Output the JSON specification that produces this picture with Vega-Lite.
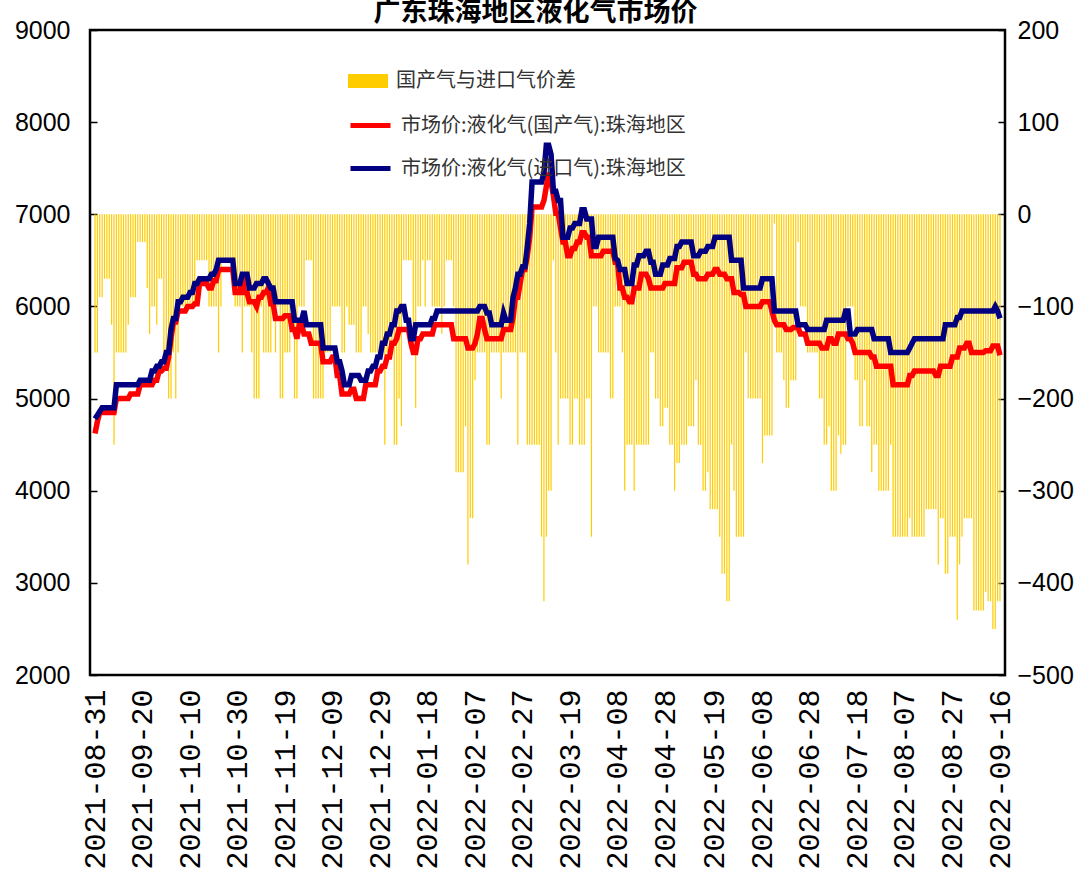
{
"$schema":"https://vega.github.io/schema/vega-lite/v6.json",
"width":915,"height":645,
"autosize":{"type":"none"},
"padding":{"left":90,"top":30,"right":71,"bottom":211},
"background":"white",
"title":{"text":"广东珠海地区液化气市场价","font":"Noto Sans CJK SC","fontSize":27,"fontWeight":"bold","color":"#000","anchor":"middle","offset":8,"dx":-12,"dy":17},
"config":{"view":{"stroke":"#000","strokeWidth":2.5}},
"data":{"values":[
{"d":"2021-08-31","a":4620,"b":4780,"s":-150},
{"d":"2021-09-01","a":4750,"b":4820,"s":-150},
{"d":"2021-09-02","a":4850,"b":4860,"s":-90},
{"d":"2021-09-03","a":4850,"b":4900,"s":-90},
{"d":"2021-09-04","a":4850,"b":4900,"s":-70},
{"d":"2021-09-05","a":4850,"b":4900,"s":-70},
{"d":"2021-09-06","a":4850,"b":4900,"s":-70},
{"d":"2021-09-07","a":4850,"b":4900,"s":-120},
{"d":"2021-09-08","a":4850,"b":4900,"s":-250},
{"d":"2021-09-09","a":5000,"b":5150,"s":-150},
{"d":"2021-09-10","a":5000,"b":5150,"s":-150},
{"d":"2021-09-11","a":5000,"b":5150,"s":-150},
{"d":"2021-09-12","a":5000,"b":5150,"s":-150},
{"d":"2021-09-13","a":5000,"b":5150,"s":-150},
{"d":"2021-09-14","a":5000,"b":5150,"s":-120},
{"d":"2021-09-15","a":5050,"b":5150,"s":-90},
{"d":"2021-09-16","a":5050,"b":5150,"s":-90},
{"d":"2021-09-17","a":5050,"b":5150,"s":-90},
{"d":"2021-09-18","a":5050,"b":5150,"s":-30},
{"d":"2021-09-19","a":5150,"b":5200,"s":-30},
{"d":"2021-09-20","a":5150,"b":5200,"s":-30},
{"d":"2021-09-21","a":5150,"b":5200,"s":-30},
{"d":"2021-09-22","a":5150,"b":5200,"s":-80},
{"d":"2021-09-23","a":5150,"b":5200,"s":-130},
{"d":"2021-09-24","a":5150,"b":5300,"s":-100},
{"d":"2021-09-25","a":5200,"b":5300,"s":-100},
{"d":"2021-09-26","a":5200,"b":5350,"s":-120},
{"d":"2021-09-27","a":5300,"b":5350,"s":-70},
{"d":"2021-09-28","a":5300,"b":5400,"s":-70},
{"d":"2021-09-29","a":5330,"b":5400,"s":-150},
{"d":"2021-09-30","a":5330,"b":5500,"s":-150},
{"d":"2021-10-01","a":5450,"b":5500,"s":-200},
{"d":"2021-10-02","a":5650,"b":5750,"s":-200},
{"d":"2021-10-03","a":5830,"b":5870,"s":-150},
{"d":"2021-10-04","a":5830,"b":5870,"s":-200},
{"d":"2021-10-05","a":5950,"b":6050,"s":-150},
{"d":"2021-10-06","a":5950,"b":6050,"s":-100},
{"d":"2021-10-07","a":5950,"b":6100,"s":-100},
{"d":"2021-10-08","a":5950,"b":6100,"s":-100},
{"d":"2021-10-09","a":6000,"b":6100,"s":-100},
{"d":"2021-10-10","a":6000,"b":6150,"s":-100},
{"d":"2021-10-11","a":6000,"b":6150,"s":-100},
{"d":"2021-10-12","a":6030,"b":6250,"s":-100},
{"d":"2021-10-13","a":6030,"b":6250,"s":-50},
{"d":"2021-10-14","a":6250,"b":6300,"s":-50},
{"d":"2021-10-15","a":6250,"b":6300,"s":-50},
{"d":"2021-10-16","a":6250,"b":6300,"s":-50},
{"d":"2021-10-17","a":6250,"b":6300,"s":-50},
{"d":"2021-10-18","a":6200,"b":6300,"s":-100},
{"d":"2021-10-19","a":6200,"b":6350,"s":-100},
{"d":"2021-10-20","a":6280,"b":6350,"s":-100},
{"d":"2021-10-21","a":6280,"b":6400,"s":-100},
{"d":"2021-10-22","a":6400,"b":6500,"s":-150},
{"d":"2021-10-23","a":6400,"b":6500,"s":-100},
{"d":"2021-10-24","a":6400,"b":6500,"s":-50},
{"d":"2021-10-25","a":6400,"b":6500,"s":-50},
{"d":"2021-10-26","a":6400,"b":6500,"s":-50},
{"d":"2021-10-27","a":6400,"b":6500,"s":-50},
{"d":"2021-10-28","a":6400,"b":6500,"s":-50},
{"d":"2021-10-29","a":6150,"b":6250,"s":-100},
{"d":"2021-10-30","a":6150,"b":6250,"s":-100},
{"d":"2021-10-31","a":6150,"b":6250,"s":-100},
{"d":"2021-11-01","a":6320,"b":6350,"s":-150},
{"d":"2021-11-02","a":6150,"b":6350,"s":-100},
{"d":"2021-11-03","a":6150,"b":6350,"s":-100},
{"d":"2021-11-04","a":6050,"b":6200,"s":-100},
{"d":"2021-11-05","a":6050,"b":6200,"s":-150},
{"d":"2021-11-06","a":6050,"b":6200,"s":-200},
{"d":"2021-11-07","a":6000,"b":6250,"s":-200},
{"d":"2021-11-08","a":6100,"b":6250,"s":-200},
{"d":"2021-11-09","a":6100,"b":6250,"s":-100},
{"d":"2021-11-10","a":6150,"b":6300,"s":-150},
{"d":"2021-11-11","a":6150,"b":6300,"s":-150},
{"d":"2021-11-12","a":6200,"b":6250,"s":-150},
{"d":"2021-11-13","a":6030,"b":6200,"s":-150},
{"d":"2021-11-14","a":6030,"b":6200,"s":-100},
{"d":"2021-11-15","a":5870,"b":6050,"s":-150},
{"d":"2021-11-16","a":5870,"b":6050,"s":-100},
{"d":"2021-11-17","a":5870,"b":6050,"s":-200},
{"d":"2021-11-18","a":5870,"b":6050,"s":-200},
{"d":"2021-11-19","a":5900,"b":6050,"s":-150},
{"d":"2021-11-20","a":5900,"b":6050,"s":-150},
{"d":"2021-11-21","a":5900,"b":6050,"s":-150},
{"d":"2021-11-22","a":5750,"b":6050,"s":-100},
{"d":"2021-11-23","a":5750,"b":5850,"s":-200},
{"d":"2021-11-24","a":5650,"b":5850,"s":-200},
{"d":"2021-11-25","a":5800,"b":5850,"s":-100},
{"d":"2021-11-26","a":5800,"b":5850,"s":-100},
{"d":"2021-11-27","a":5700,"b":5950,"s":-100},
{"d":"2021-11-28","a":5700,"b":5800,"s":-50},
{"d":"2021-11-29","a":5700,"b":5800,"s":-50},
{"d":"2021-11-30","a":5600,"b":5800,"s":-50},
{"d":"2021-12-01","a":5600,"b":5800,"s":-200},
{"d":"2021-12-02","a":5600,"b":5800,"s":-200},
{"d":"2021-12-03","a":5600,"b":5800,"s":-200},
{"d":"2021-12-04","a":5600,"b":5800,"s":-200},
{"d":"2021-12-05","a":5400,"b":5550,"s":-200},
{"d":"2021-12-06","a":5400,"b":5550,"s":-150},
{"d":"2021-12-07","a":5400,"b":5550,"s":-150},
{"d":"2021-12-08","a":5400,"b":5550,"s":-150},
{"d":"2021-12-09","a":5450,"b":5550,"s":-100},
{"d":"2021-12-10","a":5450,"b":5550,"s":-100},
{"d":"2021-12-11","a":5250,"b":5400,"s":-100},
{"d":"2021-12-12","a":5250,"b":5400,"s":-100},
{"d":"2021-12-13","a":5050,"b":5300,"s":-150},
{"d":"2021-12-14","a":5050,"b":5150,"s":-150},
{"d":"2021-12-15","a":5050,"b":5150,"s":-100},
{"d":"2021-12-16","a":5050,"b":5150,"s":-120},
{"d":"2021-12-17","a":5100,"b":5250,"s":-120},
{"d":"2021-12-18","a":5100,"b":5250,"s":-120},
{"d":"2021-12-19","a":5000,"b":5250,"s":-150},
{"d":"2021-12-20","a":5000,"b":5250,"s":-150},
{"d":"2021-12-21","a":5000,"b":5200,"s":-150},
{"d":"2021-12-22","a":5000,"b":5200,"s":-100},
{"d":"2021-12-23","a":5150,"b":5200,"s":-100},
{"d":"2021-12-24","a":5150,"b":5300,"s":-130},
{"d":"2021-12-25","a":5150,"b":5300,"s":-150},
{"d":"2021-12-26","a":5150,"b":5350,"s":-150},
{"d":"2021-12-27","a":5150,"b":5350,"s":-150},
{"d":"2021-12-28","a":5300,"b":5450,"s":-150},
{"d":"2021-12-29","a":5300,"b":5450,"s":-150},
{"d":"2021-12-30","a":5350,"b":5600,"s":-150},
{"d":"2021-12-31","a":5350,"b":5600,"s":-250},
{"d":"2022-01-01","a":5450,"b":5700,"s":-150},
{"d":"2022-01-02","a":5450,"b":5700,"s":-150},
{"d":"2022-01-03","a":5600,"b":5800,"s":-150},
{"d":"2022-01-04","a":5600,"b":5800,"s":-250},
{"d":"2022-01-05","a":5650,"b":5950,"s":-250},
{"d":"2022-01-06","a":5750,"b":5950,"s":-200},
{"d":"2022-01-07","a":5750,"b":6000,"s":-230},
{"d":"2022-01-08","a":5750,"b":6000,"s":-50},
{"d":"2022-01-09","a":5750,"b":5850,"s":-50},
{"d":"2022-01-10","a":5750,"b":5850,"s":-50},
{"d":"2022-01-11","a":5600,"b":5650,"s":-50},
{"d":"2022-01-12","a":5500,"b":5650,"s":-150},
{"d":"2022-01-13","a":5500,"b":5800,"s":-210},
{"d":"2022-01-14","a":5650,"b":5800,"s":-100},
{"d":"2022-01-15","a":5650,"b":5800,"s":-100},
{"d":"2022-01-16","a":5700,"b":5800,"s":-50},
{"d":"2022-01-17","a":5700,"b":5800,"s":-100},
{"d":"2022-01-18","a":5700,"b":5800,"s":-50},
{"d":"2022-01-19","a":5700,"b":5800,"s":-50},
{"d":"2022-01-20","a":5700,"b":5870,"s":-100},
{"d":"2022-01-21","a":5800,"b":5870,"s":-100},
{"d":"2022-01-22","a":5800,"b":5950,"s":-100},
{"d":"2022-01-23","a":5800,"b":5950,"s":-100},
{"d":"2022-01-24","a":5800,"b":5950,"s":-130},
{"d":"2022-01-25","a":5800,"b":5950,"s":-100},
{"d":"2022-01-26","a":5800,"b":5950,"s":-50},
{"d":"2022-01-27","a":5800,"b":5950,"s":-50},
{"d":"2022-01-28","a":5800,"b":5950,"s":-50},
{"d":"2022-01-29","a":5650,"b":5950,"s":-100},
{"d":"2022-01-30","a":5650,"b":5950,"s":-280},
{"d":"2022-01-31","a":5650,"b":5950,"s":-280},
{"d":"2022-02-01","a":5650,"b":5950,"s":-280},
{"d":"2022-02-02","a":5650,"b":5950,"s":-280},
{"d":"2022-02-03","a":5650,"b":5950,"s":-230},
{"d":"2022-02-04","a":5550,"b":5950,"s":-380},
{"d":"2022-02-05","a":5550,"b":5950,"s":-330},
{"d":"2022-02-06","a":5550,"b":5950,"s":-330},
{"d":"2022-02-07","a":5600,"b":5950,"s":-180},
{"d":"2022-02-08","a":5700,"b":5950,"s":-150},
{"d":"2022-02-09","a":5870,"b":6000,"s":-150},
{"d":"2022-02-10","a":5870,"b":6000,"s":-150},
{"d":"2022-02-11","a":5750,"b":6000,"s":-150},
{"d":"2022-02-12","a":5650,"b":5930,"s":-250},
{"d":"2022-02-13","a":5650,"b":5930,"s":-250},
{"d":"2022-02-14","a":5650,"b":5800,"s":-150},
{"d":"2022-02-15","a":5650,"b":5800,"s":-150},
{"d":"2022-02-16","a":5650,"b":5800,"s":-150},
{"d":"2022-02-17","a":5650,"b":5800,"s":-150},
{"d":"2022-02-18","a":5650,"b":5800,"s":-200},
{"d":"2022-02-19","a":5750,"b":5930,"s":-150},
{"d":"2022-02-20","a":5750,"b":5850,"s":-150},
{"d":"2022-02-21","a":5750,"b":5850,"s":-150},
{"d":"2022-02-22","a":5750,"b":5850,"s":-150},
{"d":"2022-02-23","a":5880,"b":6100,"s":-150},
{"d":"2022-02-24","a":6100,"b":6200,"s":-150},
{"d":"2022-02-25","a":6100,"b":6350,"s":-250},
{"d":"2022-02-26","a":6250,"b":6350,"s":-150},
{"d":"2022-02-27","a":6400,"b":6430,"s":-150},
{"d":"2022-02-28","a":6400,"b":6430,"s":-150},
{"d":"2022-03-01","a":6550,"b":6650,"s":-250},
{"d":"2022-03-02","a":6750,"b":6900,"s":-250},
{"d":"2022-03-03","a":7080,"b":7350,"s":-250},
{"d":"2022-03-04","a":7080,"b":7350,"s":-250},
{"d":"2022-03-05","a":7080,"b":7350,"s":-250},
{"d":"2022-03-06","a":7080,"b":7350,"s":-250},
{"d":"2022-03-07","a":7080,"b":7350,"s":-350},
{"d":"2022-03-08","a":7150,"b":7450,"s":-420},
{"d":"2022-03-09","a":7300,"b":7750,"s":-350},
{"d":"2022-03-10","a":7450,"b":7750,"s":-300},
{"d":"2022-03-11","a":7350,"b":7650,"s":-300},
{"d":"2022-03-12","a":7200,"b":7250,"s":-50},
{"d":"2022-03-13","a":7010,"b":7250,"s":-150},
{"d":"2022-03-14","a":7010,"b":7150,"s":-250},
{"d":"2022-03-15","a":6850,"b":7150,"s":-200},
{"d":"2022-03-16","a":6700,"b":6750,"s":-200},
{"d":"2022-03-17","a":6700,"b":6750,"s":-200},
{"d":"2022-03-18","a":6550,"b":6750,"s":-200},
{"d":"2022-03-19","a":6550,"b":6850,"s":-250},
{"d":"2022-03-20","a":6630,"b":6850,"s":-250},
{"d":"2022-03-21","a":6630,"b":6900,"s":-200},
{"d":"2022-03-22","a":6700,"b":6900,"s":-200},
{"d":"2022-03-23","a":6700,"b":6900,"s":-250},
{"d":"2022-03-24","a":6800,"b":7050,"s":-250},
{"d":"2022-03-25","a":6800,"b":7050,"s":-250},
{"d":"2022-03-26","a":6750,"b":6950,"s":-200},
{"d":"2022-03-27","a":6750,"b":6950,"s":-200},
{"d":"2022-03-28","a":6550,"b":6950,"s":-350},
{"d":"2022-03-29","a":6550,"b":6650,"s":-100},
{"d":"2022-03-30","a":6550,"b":6650,"s":-100},
{"d":"2022-03-31","a":6550,"b":6750,"s":-150},
{"d":"2022-04-01","a":6550,"b":6750,"s":-150},
{"d":"2022-04-02","a":6600,"b":6750,"s":-150},
{"d":"2022-04-03","a":6600,"b":6750,"s":-150},
{"d":"2022-04-04","a":6600,"b":6750,"s":-150},
{"d":"2022-04-05","a":6600,"b":6750,"s":-200},
{"d":"2022-04-06","a":6600,"b":6750,"s":-200},
{"d":"2022-04-07","a":6480,"b":6520,"s":-100},
{"d":"2022-04-08","a":6480,"b":6500,"s":-100},
{"d":"2022-04-09","a":6200,"b":6400,"s":-100},
{"d":"2022-04-10","a":6200,"b":6400,"s":-150},
{"d":"2022-04-11","a":6100,"b":6400,"s":-300},
{"d":"2022-04-12","a":6100,"b":6250,"s":-250},
{"d":"2022-04-13","a":6050,"b":6250,"s":-250},
{"d":"2022-04-14","a":6050,"b":6250,"s":-250},
{"d":"2022-04-15","a":6200,"b":6450,"s":-300},
{"d":"2022-04-16","a":6200,"b":6450,"s":-250},
{"d":"2022-04-17","a":6200,"b":6550,"s":-250},
{"d":"2022-04-18","a":6350,"b":6550,"s":-250},
{"d":"2022-04-19","a":6350,"b":6550,"s":-250},
{"d":"2022-04-20","a":6350,"b":6600,"s":-250},
{"d":"2022-04-21","a":6300,"b":6600,"s":-250},
{"d":"2022-04-22","a":6200,"b":6480,"s":-150},
{"d":"2022-04-23","a":6200,"b":6480,"s":-150},
{"d":"2022-04-24","a":6200,"b":6350,"s":-200},
{"d":"2022-04-25","a":6200,"b":6350,"s":-200},
{"d":"2022-04-26","a":6200,"b":6350,"s":-230},
{"d":"2022-04-27","a":6200,"b":6450,"s":-230},
{"d":"2022-04-28","a":6250,"b":6450,"s":-210},
{"d":"2022-04-29","a":6250,"b":6450,"s":-210},
{"d":"2022-04-30","a":6250,"b":6520,"s":-250},
{"d":"2022-05-01","a":6250,"b":6520,"s":-250},
{"d":"2022-05-02","a":6250,"b":6520,"s":-300},
{"d":"2022-05-03","a":6420,"b":6650,"s":-270},
{"d":"2022-05-04","a":6420,"b":6650,"s":-270},
{"d":"2022-05-05","a":6420,"b":6700,"s":-250},
{"d":"2022-05-06","a":6480,"b":6700,"s":-250},
{"d":"2022-05-07","a":6480,"b":6700,"s":-250},
{"d":"2022-05-08","a":6480,"b":6700,"s":-230},
{"d":"2022-05-09","a":6480,"b":6700,"s":-230},
{"d":"2022-05-10","a":6350,"b":6550,"s":-230},
{"d":"2022-05-11","a":6350,"b":6550,"s":-180},
{"d":"2022-05-12","a":6300,"b":6550,"s":-250},
{"d":"2022-05-13","a":6300,"b":6600,"s":-250},
{"d":"2022-05-14","a":6300,"b":6600,"s":-300},
{"d":"2022-05-15","a":6300,"b":6600,"s":-300},
{"d":"2022-05-16","a":6350,"b":6650,"s":-280},
{"d":"2022-05-17","a":6350,"b":6650,"s":-320},
{"d":"2022-05-18","a":6350,"b":6650,"s":-320},
{"d":"2022-05-19","a":6400,"b":6750,"s":-320},
{"d":"2022-05-20","a":6400,"b":6750,"s":-320},
{"d":"2022-05-21","a":6350,"b":6750,"s":-350},
{"d":"2022-05-22","a":6350,"b":6750,"s":-390},
{"d":"2022-05-23","a":6350,"b":6750,"s":-390},
{"d":"2022-05-24","a":6300,"b":6750,"s":-420},
{"d":"2022-05-25","a":6300,"b":6750,"s":-420},
{"d":"2022-05-26","a":6300,"b":6500,"s":-250},
{"d":"2022-05-27","a":6150,"b":6500,"s":-300},
{"d":"2022-05-28","a":6150,"b":6500,"s":-350},
{"d":"2022-05-29","a":6150,"b":6500,"s":-350},
{"d":"2022-05-30","a":6130,"b":6500,"s":-350},
{"d":"2022-05-31","a":6130,"b":6200,"s":-350},
{"d":"2022-06-01","a":6000,"b":6200,"s":-150},
{"d":"2022-06-02","a":6000,"b":6200,"s":-200},
{"d":"2022-06-03","a":6000,"b":6200,"s":-200},
{"d":"2022-06-04","a":6000,"b":6200,"s":-200},
{"d":"2022-06-05","a":6000,"b":6200,"s":-200},
{"d":"2022-06-06","a":6000,"b":6200,"s":-200},
{"d":"2022-06-07","a":6000,"b":6200,"s":-200},
{"d":"2022-06-08","a":6050,"b":6300,"s":-270},
{"d":"2022-06-09","a":6050,"b":6300,"s":-240},
{"d":"2022-06-10","a":6050,"b":6300,"s":-240},
{"d":"2022-06-11","a":6050,"b":6300,"s":-240},
{"d":"2022-06-12","a":5950,"b":6300,"s":-240},
{"d":"2022-06-13","a":5850,"b":5950,"s":-10},
{"d":"2022-06-14","a":5800,"b":5950,"s":-150},
{"d":"2022-06-15","a":5800,"b":5950,"s":-150},
{"d":"2022-06-16","a":5800,"b":5950,"s":-150},
{"d":"2022-06-17","a":5800,"b":5950,"s":-180},
{"d":"2022-06-18","a":5750,"b":5950,"s":-210},
{"d":"2022-06-19","a":5750,"b":5950,"s":-210},
{"d":"2022-06-20","a":5750,"b":5950,"s":-180},
{"d":"2022-06-21","a":5770,"b":5950,"s":-180},
{"d":"2022-06-22","a":5770,"b":5950,"s":-180},
{"d":"2022-06-23","a":5770,"b":5800,"s":-30},
{"d":"2022-06-24","a":5700,"b":5800,"s":-100},
{"d":"2022-06-25","a":5700,"b":5800,"s":-100},
{"d":"2022-06-26","a":5700,"b":5800,"s":-100},
{"d":"2022-06-27","a":5600,"b":5750,"s":-150},
{"d":"2022-06-28","a":5600,"b":5750,"s":-150},
{"d":"2022-06-29","a":5600,"b":5750,"s":-150},
{"d":"2022-06-30","a":5600,"b":5750,"s":-150},
{"d":"2022-07-01","a":5600,"b":5750,"s":-150},
{"d":"2022-07-02","a":5600,"b":5750,"s":-200},
{"d":"2022-07-03","a":5550,"b":5750,"s":-200},
{"d":"2022-07-04","a":5550,"b":5750,"s":-250},
{"d":"2022-07-05","a":5550,"b":5850,"s":-250},
{"d":"2022-07-06","a":5650,"b":5850,"s":-230},
{"d":"2022-07-07","a":5650,"b":5850,"s":-300},
{"d":"2022-07-08","a":5600,"b":5850,"s":-300},
{"d":"2022-07-09","a":5600,"b":5850,"s":-300},
{"d":"2022-07-10","a":5700,"b":5850,"s":-240},
{"d":"2022-07-11","a":5700,"b":5850,"s":-260},
{"d":"2022-07-12","a":5700,"b":5850,"s":-250},
{"d":"2022-07-13","a":5700,"b":5950,"s":-250},
{"d":"2022-07-14","a":5650,"b":5950,"s":-100},
{"d":"2022-07-15","a":5650,"b":5700,"s":-100},
{"d":"2022-07-16","a":5600,"b":5700,"s":-100},
{"d":"2022-07-17","a":5500,"b":5700,"s":-180},
{"d":"2022-07-18","a":5500,"b":5750,"s":-180},
{"d":"2022-07-19","a":5500,"b":5750,"s":-230},
{"d":"2022-07-20","a":5500,"b":5750,"s":-230},
{"d":"2022-07-21","a":5500,"b":5750,"s":-180},
{"d":"2022-07-22","a":5500,"b":5750,"s":-230},
{"d":"2022-07-23","a":5500,"b":5750,"s":-230},
{"d":"2022-07-24","a":5450,"b":5750,"s":-280},
{"d":"2022-07-25","a":5450,"b":5650,"s":-250},
{"d":"2022-07-26","a":5350,"b":5650,"s":-250},
{"d":"2022-07-27","a":5350,"b":5650,"s":-300},
{"d":"2022-07-28","a":5350,"b":5650,"s":-300},
{"d":"2022-07-29","a":5350,"b":5650,"s":-300},
{"d":"2022-07-30","a":5350,"b":5650,"s":-300},
{"d":"2022-07-31","a":5350,"b":5650,"s":-300},
{"d":"2022-08-01","a":5350,"b":5500,"s":-250},
{"d":"2022-08-02","a":5150,"b":5500,"s":-350},
{"d":"2022-08-03","a":5150,"b":5500,"s":-350},
{"d":"2022-08-04","a":5150,"b":5500,"s":-350},
{"d":"2022-08-05","a":5150,"b":5500,"s":-350},
{"d":"2022-08-06","a":5150,"b":5500,"s":-350},
{"d":"2022-08-07","a":5150,"b":5500,"s":-350},
{"d":"2022-08-08","a":5150,"b":5500,"s":-350},
{"d":"2022-08-09","a":5250,"b":5550,"s":-330},
{"d":"2022-08-10","a":5250,"b":5600,"s":-350},
{"d":"2022-08-11","a":5300,"b":5650,"s":-350},
{"d":"2022-08-12","a":5300,"b":5650,"s":-350},
{"d":"2022-08-13","a":5300,"b":5650,"s":-350},
{"d":"2022-08-14","a":5300,"b":5650,"s":-350},
{"d":"2022-08-15","a":5300,"b":5650,"s":-350},
{"d":"2022-08-16","a":5300,"b":5650,"s":-320},
{"d":"2022-08-17","a":5300,"b":5650,"s":-320},
{"d":"2022-08-18","a":5300,"b":5650,"s":-320},
{"d":"2022-08-19","a":5300,"b":5650,"s":-320},
{"d":"2022-08-20","a":5250,"b":5650,"s":-320},
{"d":"2022-08-21","a":5250,"b":5650,"s":-380},
{"d":"2022-08-22","a":5350,"b":5650,"s":-330},
{"d":"2022-08-23","a":5350,"b":5650,"s":-330},
{"d":"2022-08-24","a":5350,"b":5800,"s":-390},
{"d":"2022-08-25","a":5350,"b":5800,"s":-390},
{"d":"2022-08-26","a":5350,"b":5800,"s":-350},
{"d":"2022-08-27","a":5450,"b":5800,"s":-350},
{"d":"2022-08-28","a":5450,"b":5800,"s":-350},
{"d":"2022-08-29","a":5450,"b":5880,"s":-440},
{"d":"2022-08-30","a":5550,"b":5880,"s":-380},
{"d":"2022-08-31","a":5550,"b":5950,"s":-350},
{"d":"2022-09-01","a":5550,"b":5950,"s":-330},
{"d":"2022-09-02","a":5600,"b":5950,"s":-330},
{"d":"2022-09-03","a":5600,"b":5950,"s":-330},
{"d":"2022-09-04","a":5500,"b":5950,"s":-330},
{"d":"2022-09-05","a":5500,"b":5950,"s":-430},
{"d":"2022-09-06","a":5500,"b":5950,"s":-430},
{"d":"2022-09-07","a":5500,"b":5950,"s":-430},
{"d":"2022-09-08","a":5500,"b":5950,"s":-430},
{"d":"2022-09-09","a":5500,"b":5950,"s":-430},
{"d":"2022-09-10","a":5520,"b":5950,"s":-410},
{"d":"2022-09-11","a":5520,"b":5950,"s":-420},
{"d":"2022-09-12","a":5520,"b":5950,"s":-420},
{"d":"2022-09-13","a":5570,"b":5950,"s":-450},
{"d":"2022-09-14","a":5570,"b":6000,"s":-450},
{"d":"2022-09-15","a":5570,"b":5950,"s":-420},
{"d":"2022-09-16","a":5470,"b":5870,"s":-420}
]},
"encoding":{
"x":{"field":"d","type":"temporal",
"scale":{"type":"utc","nice":false,"domain":[{"year":2021,"month":8,"date":31,"utc":true},{"year":2022,"month":9,"date":16,"utc":true}]},
"axis":{"title":null,"grid":false,"domain":false,"ticks":false,"labelAngle":270,"labelAlign":"right","labelBaseline":"middle","labelPadding":14,"labelFlush":false,"labelOverlap":false,"labelBound":false,"labelLimit":400,"labelFont":"Liberation Mono","labelFontSize":30,"labelColor":"#000",
"labelExpr":"utcFormat(datum.value, '%Y-%m-%d')",
"values":[
{"year":2021,"month":8,"date":31,"utc":true},{"year":2021,"month":9,"date":20,"utc":true},{"year":2021,"month":10,"date":10,"utc":true},{"year":2021,"month":10,"date":30,"utc":true},{"year":2021,"month":11,"date":19,"utc":true},{"year":2021,"month":12,"date":9,"utc":true},{"year":2021,"month":12,"date":29,"utc":true},{"year":2022,"month":1,"date":18,"utc":true},{"year":2022,"month":2,"date":7,"utc":true},{"year":2022,"month":2,"date":27,"utc":true},{"year":2022,"month":3,"date":19,"utc":true},{"year":2022,"month":4,"date":8,"utc":true},{"year":2022,"month":4,"date":28,"utc":true},{"year":2022,"month":5,"date":19,"utc":true},{"year":2022,"month":6,"date":8,"utc":true},{"year":2022,"month":6,"date":28,"utc":true},{"year":2022,"month":7,"date":18,"utc":true},{"year":2022,"month":8,"date":7,"utc":true},{"year":2022,"month":8,"date":27,"utc":true},{"year":2022,"month":9,"date":16,"utc":true}]}}
},
"layer":[
{"mark":{"type":"bar","size":1.2,"color":"#FFCC00"},
"encoding":{
"y":{"field":"s","type":"quantitative","scale":{"domain":[-500,200],"nice":false,"zero":false},
"axis":{"orient":"right","title":null,"grid":false,"domain":false,"values":[-500,-400,-300,-200,-100,0,100,200],"tickSize":-7,"tickWidth":1.5,"tickColor":"#000","labelPadding":19,"labelFont":"Liberation Sans","labelFontSize":25,"labelColor":"#000","labelFlush":false}},
"fill":{"datum":"国产气与进口气价差","type":"nominal","scale":{"range":["#FFCC00"]},
"legend":{"orient":"none","legendX":258,"legendY":31,"title":null,"symbolType":"M-1,-0.35L1,-0.35L1,0.35L-1,0.35Z","symbolSize":1600,"symbolStrokeWidth":0,"labelFont":"Noto Sans CJK SC","labelFontSize":20,"labelColor":"#333","labelOffset":8,"labelLimit":0}}
}},
{"transform":[{"fold":["a","b"],"as":["k","v"]}],
"mark":{"type":"line","strokeWidth":5.5,"interpolate":"linear"},
"encoding":{
"y":{"field":"v","type":"quantitative","scale":{"domain":[2000,9000],"nice":false,"zero":false},
"axis":{"orient":"left","title":null,"grid":false,"domain":false,"values":[2000,3000,4000,5000,6000,7000,8000,9000],"tickSize":-7,"tickWidth":1.5,"tickColor":"#000","labelPadding":27,"labelFont":"Liberation Sans","labelFontSize":25,"labelColor":"#000","labelFlush":false,"format":"d"}},
"stroke":{"field":"k","type":"nominal","scale":{"domain":["a","b"],"range":["#FF0000","#000080"]},
"legend":{"orient":"none","legendX":258,"legendY":73,"title":null,"symbolType":"stroke","symbolSize":1600,"symbolStrokeWidth":5,"rowPadding":10,"labelFont":"Noto Sans CJK SC","labelFontSize":20,"labelColor":"#333","labelOffset":8,"labelLimit":0,
"labelExpr":"datum.label == 'a' ? '市场价:液化气(国产气):珠海地区' : '市场价:液化气(进口气):珠海地区'"}}
}}
],
"resolve":{"scale":{"y":"independent"}}
}
